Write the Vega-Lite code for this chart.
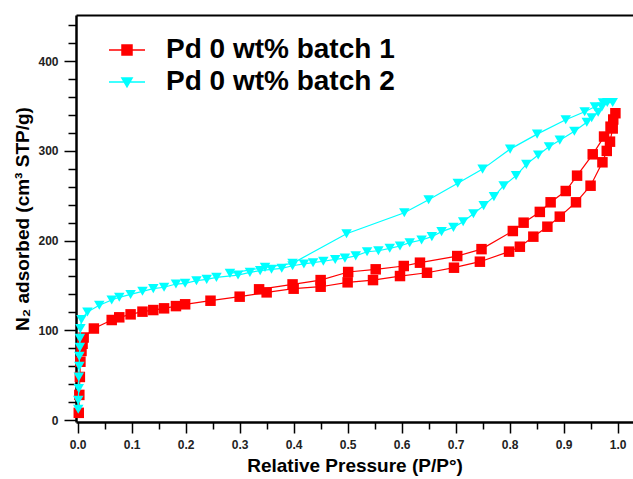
{
  "$schema": "https://vega.github.io/schema/vega-lite/v6.json",
  "autosize": "none",
  "padding": {"left": 76, "top": 15, "right": 0, "bottom": 57},
  "width": 557,
  "height": 407,
  "background": "white",
  "config": {
    "view": {"stroke": null},
    "font": "Liberation Sans",
    "axis": {
      "grid": false,
      "domainColor": "#000",
      "domainWidth": 2.5,
      "tickColor": "#000",
      "tickWidth": 1.5,
      "labelFont": "Liberation Sans",
      "labelFontSize": 12,
      "labelFontWeight": "bold",
      "labelColor": "#222",
      "titleFont": "Liberation Sans",
      "titleFontSize": 19,
      "titleFontWeight": "bold",
      "titleColor": "#000"
    },
    "legend": {
      "orient": "none",
      "legendX": 33,
      "legendY": 17,
      "padding": 0,
      "rowPadding": 0,
      "symbolSize": 1156,
      "symbolStrokeWidth": 1.5,
      "symbolOpacity": 1,
      "labelFont": "Liberation Sans",
      "labelFontSize": 28,
      "labelFontWeight": "bold",
      "labelColor": "#000",
      "labelOffset": 21,
      "labelLimit": 400
    }
  },
  "data": {
    "values": [
      {"s": "Pd 0 wt% batch 1", "o": 1, "p": 0.002, "v": 8},
      {"s": "Pd 0 wt% batch 1", "o": 2, "p": 0.003, "v": 28},
      {"s": "Pd 0 wt% batch 1", "o": 3, "p": 0.004, "v": 48},
      {"s": "Pd 0 wt% batch 1", "o": 4, "p": 0.005, "v": 65},
      {"s": "Pd 0 wt% batch 1", "o": 5, "p": 0.007, "v": 77},
      {"s": "Pd 0 wt% batch 1", "o": 6, "p": 0.009, "v": 85},
      {"s": "Pd 0 wt% batch 1", "o": 7, "p": 0.011, "v": 92},
      {"s": "Pd 0 wt% batch 1", "o": 8, "p": 0.030, "v": 102},
      {"s": "Pd 0 wt% batch 1", "o": 9, "p": 0.063, "v": 111.5},
      {"s": "Pd 0 wt% batch 1", "o": 10, "p": 0.077, "v": 114.5},
      {"s": "Pd 0 wt% batch 1", "o": 11, "p": 0.098, "v": 117.8},
      {"s": "Pd 0 wt% batch 1", "o": 12, "p": 0.120, "v": 120.8},
      {"s": "Pd 0 wt% batch 1", "o": 13, "p": 0.140, "v": 122.6},
      {"s": "Pd 0 wt% batch 1", "o": 14, "p": 0.160, "v": 124.5},
      {"s": "Pd 0 wt% batch 1", "o": 15, "p": 0.182, "v": 127},
      {"s": "Pd 0 wt% batch 1", "o": 16, "p": 0.199, "v": 129},
      {"s": "Pd 0 wt% batch 1", "o": 17, "p": 0.246, "v": 133},
      {"s": "Pd 0 wt% batch 1", "o": 18, "p": 0.300, "v": 137.5},
      {"s": "Pd 0 wt% batch 1", "o": 19, "p": 0.350, "v": 142.3},
      {"s": "Pd 0 wt% batch 1", "o": 20, "p": 0.400, "v": 146.4},
      {"s": "Pd 0 wt% batch 1", "o": 21, "p": 0.450, "v": 148.6},
      {"s": "Pd 0 wt% batch 1", "o": 22, "p": 0.500, "v": 153.5},
      {"s": "Pd 0 wt% batch 1", "o": 23, "p": 0.547, "v": 156},
      {"s": "Pd 0 wt% batch 1", "o": 24, "p": 0.597, "v": 160.5},
      {"s": "Pd 0 wt% batch 1", "o": 25, "p": 0.647, "v": 164.2},
      {"s": "Pd 0 wt% batch 1", "o": 26, "p": 0.697, "v": 169.8},
      {"s": "Pd 0 wt% batch 1", "o": 27, "p": 0.745, "v": 176.5},
      {"s": "Pd 0 wt% batch 1", "o": 28, "p": 0.799, "v": 187.7},
      {"s": "Pd 0 wt% batch 1", "o": 29, "p": 0.819, "v": 193.2},
      {"s": "Pd 0 wt% batch 1", "o": 30, "p": 0.844, "v": 204.4},
      {"s": "Pd 0 wt% batch 1", "o": 31, "p": 0.870, "v": 215.5},
      {"s": "Pd 0 wt% batch 1", "o": 32, "p": 0.893, "v": 226.7},
      {"s": "Pd 0 wt% batch 1", "o": 33, "p": 0.923, "v": 242.7},
      {"s": "Pd 0 wt% batch 1", "o": 34, "p": 0.950, "v": 261.2},
      {"s": "Pd 0 wt% batch 1", "o": 35, "p": 0.972, "v": 287.3},
      {"s": "Pd 0 wt% batch 1", "o": 36, "p": 0.980, "v": 300},
      {"s": "Pd 0 wt% batch 1", "o": 37, "p": 0.986, "v": 310.3},
      {"s": "Pd 0 wt% batch 1", "o": 38, "p": 0.991, "v": 325},
      {"s": "Pd 0 wt% batch 1", "o": 39, "p": 0.996, "v": 342},
      {"s": "Pd 0 wt% batch 1", "o": 40, "p": 0.992, "v": 335},
      {"s": "Pd 0 wt% batch 1", "o": 41, "p": 0.987, "v": 327},
      {"s": "Pd 0 wt% batch 1", "o": 42, "p": 0.975, "v": 316},
      {"s": "Pd 0 wt% batch 1", "o": 43, "p": 0.954, "v": 296.2},
      {"s": "Pd 0 wt% batch 1", "o": 44, "p": 0.925, "v": 272.4},
      {"s": "Pd 0 wt% batch 1", "o": 45, "p": 0.904, "v": 255.3},
      {"s": "Pd 0 wt% batch 1", "o": 46, "p": 0.876, "v": 242.7},
      {"s": "Pd 0 wt% batch 1", "o": 47, "p": 0.856, "v": 232},
      {"s": "Pd 0 wt% batch 1", "o": 48, "p": 0.826, "v": 220},
      {"s": "Pd 0 wt% batch 1", "o": 49, "p": 0.806, "v": 210.7},
      {"s": "Pd 0 wt% batch 1", "o": 50, "p": 0.748, "v": 190.5},
      {"s": "Pd 0 wt% batch 1", "o": 51, "p": 0.703, "v": 182.8},
      {"s": "Pd 0 wt% batch 1", "o": 52, "p": 0.634, "v": 175.4},
      {"s": "Pd 0 wt% batch 1", "o": 53, "p": 0.604, "v": 171.7},
      {"s": "Pd 0 wt% batch 1", "o": 54, "p": 0.552, "v": 168},
      {"s": "Pd 0 wt% batch 1", "o": 55, "p": 0.501, "v": 165},
      {"s": "Pd 0 wt% batch 1", "o": 56, "p": 0.450, "v": 156},
      {"s": "Pd 0 wt% batch 1", "o": 57, "p": 0.398, "v": 151.2},
      {"s": "Pd 0 wt% batch 1", "o": 58, "p": 0.336, "v": 145.7},

      {"s": "Pd 0 wt% batch 2", "o": 1, "p": 0.001, "v": 12},
      {"s": "Pd 0 wt% batch 2", "o": 2, "p": 0.001, "v": 22},
      {"s": "Pd 0 wt% batch 2", "o": 3, "p": 0.002, "v": 35},
      {"s": "Pd 0 wt% batch 2", "o": 4, "p": 0.002, "v": 48},
      {"s": "Pd 0 wt% batch 2", "o": 5, "p": 0.003, "v": 60},
      {"s": "Pd 0 wt% batch 2", "o": 6, "p": 0.003, "v": 71},
      {"s": "Pd 0 wt% batch 2", "o": 7, "p": 0.004, "v": 81},
      {"s": "Pd 0 wt% batch 2", "o": 8, "p": 0.004, "v": 91},
      {"s": "Pd 0 wt% batch 2", "o": 9, "p": 0.005, "v": 102},
      {"s": "Pd 0 wt% batch 2", "o": 10, "p": 0.007, "v": 112},
      {"s": "Pd 0 wt% batch 2", "o": 11, "p": 0.018, "v": 120.5},
      {"s": "Pd 0 wt% batch 2", "o": 12, "p": 0.040, "v": 128},
      {"s": "Pd 0 wt% batch 2", "o": 13, "p": 0.063, "v": 133.8},
      {"s": "Pd 0 wt% batch 2", "o": 14, "p": 0.077, "v": 136.8},
      {"s": "Pd 0 wt% batch 2", "o": 15, "p": 0.098, "v": 140},
      {"s": "Pd 0 wt% batch 2", "o": 16, "p": 0.120, "v": 143.5},
      {"s": "Pd 0 wt% batch 2", "o": 17, "p": 0.140, "v": 146.5},
      {"s": "Pd 0 wt% batch 2", "o": 18, "p": 0.160, "v": 148},
      {"s": "Pd 0 wt% batch 2", "o": 19, "p": 0.182, "v": 151.6},
      {"s": "Pd 0 wt% batch 2", "o": 20, "p": 0.199, "v": 152.4},
      {"s": "Pd 0 wt% batch 2", "o": 21, "p": 0.220, "v": 155.3},
      {"s": "Pd 0 wt% batch 2", "o": 22, "p": 0.239, "v": 156.8},
      {"s": "Pd 0 wt% batch 2", "o": 23, "p": 0.257, "v": 159},
      {"s": "Pd 0 wt% batch 2", "o": 24, "p": 0.297, "v": 161.6},
      {"s": "Pd 0 wt% batch 2", "o": 25, "p": 0.319, "v": 164.6},
      {"s": "Pd 0 wt% batch 2", "o": 26, "p": 0.338, "v": 166.5},
      {"s": "Pd 0 wt% batch 2", "o": 27, "p": 0.359, "v": 168},
      {"s": "Pd 0 wt% batch 2", "o": 28, "p": 0.378, "v": 169.1},
      {"s": "Pd 0 wt% batch 2", "o": 29, "p": 0.398, "v": 172},
      {"s": "Pd 0 wt% batch 2", "o": 30, "p": 0.419, "v": 174},
      {"s": "Pd 0 wt% batch 2", "o": 31, "p": 0.436, "v": 175.4},
      {"s": "Pd 0 wt% batch 2", "o": 32, "p": 0.455, "v": 177},
      {"s": "Pd 0 wt% batch 2", "o": 33, "p": 0.477, "v": 179},
      {"s": "Pd 0 wt% batch 2", "o": 34, "p": 0.495, "v": 180.5},
      {"s": "Pd 0 wt% batch 2", "o": 35, "p": 0.515, "v": 183},
      {"s": "Pd 0 wt% batch 2", "o": 36, "p": 0.536, "v": 187.6},
      {"s": "Pd 0 wt% batch 2", "o": 37, "p": 0.557, "v": 188.7},
      {"s": "Pd 0 wt% batch 2", "o": 38, "p": 0.578, "v": 191.4},
      {"s": "Pd 0 wt% batch 2", "o": 39, "p": 0.597, "v": 194},
      {"s": "Pd 0 wt% batch 2", "o": 40, "p": 0.615, "v": 197.7},
      {"s": "Pd 0 wt% batch 2", "o": 41, "p": 0.637, "v": 200.7},
      {"s": "Pd 0 wt% batch 2", "o": 42, "p": 0.656, "v": 204.4},
      {"s": "Pd 0 wt% batch 2", "o": 43, "p": 0.674, "v": 210},
      {"s": "Pd 0 wt% batch 2", "o": 44, "p": 0.696, "v": 214.8},
      {"s": "Pd 0 wt% batch 2", "o": 45, "p": 0.714, "v": 221},
      {"s": "Pd 0 wt% batch 2", "o": 46, "p": 0.733, "v": 230},
      {"s": "Pd 0 wt% batch 2", "o": 47, "p": 0.752, "v": 239},
      {"s": "Pd 0 wt% batch 2", "o": 48, "p": 0.771, "v": 249},
      {"s": "Pd 0 wt% batch 2", "o": 49, "p": 0.789, "v": 261.2},
      {"s": "Pd 0 wt% batch 2", "o": 50, "p": 0.812, "v": 272.4},
      {"s": "Pd 0 wt% batch 2", "o": 51, "p": 0.831, "v": 285},
      {"s": "Pd 0 wt% batch 2", "o": 52, "p": 0.853, "v": 295.4},
      {"s": "Pd 0 wt% batch 2", "o": 53, "p": 0.873, "v": 304.7},
      {"s": "Pd 0 wt% batch 2", "o": 54, "p": 0.893, "v": 312},
      {"s": "Pd 0 wt% batch 2", "o": 55, "p": 0.920, "v": 322},
      {"s": "Pd 0 wt% batch 2", "o": 56, "p": 0.943, "v": 332},
      {"s": "Pd 0 wt% batch 2", "o": 57, "p": 0.952, "v": 337},
      {"s": "Pd 0 wt% batch 2", "o": 58, "p": 0.964, "v": 343},
      {"s": "Pd 0 wt% batch 2", "o": 59, "p": 0.971, "v": 349},
      {"s": "Pd 0 wt% batch 2", "o": 60, "p": 0.981, "v": 354},
      {"s": "Pd 0 wt% batch 2", "o": 61, "p": 0.991, "v": 354},
      {"s": "Pd 0 wt% batch 2", "o": 62, "p": 0.973, "v": 353.5},
      {"s": "Pd 0 wt% batch 2", "o": 63, "p": 0.958, "v": 349.3},
      {"s": "Pd 0 wt% batch 2", "o": 64, "p": 0.939, "v": 343.7},
      {"s": "Pd 0 wt% batch 2", "o": 65, "p": 0.904, "v": 334.7},
      {"s": "Pd 0 wt% batch 2", "o": 66, "p": 0.851, "v": 318.7},
      {"s": "Pd 0 wt% batch 2", "o": 67, "p": 0.801, "v": 302},
      {"s": "Pd 0 wt% batch 2", "o": 68, "p": 0.750, "v": 279.7},
      {"s": "Pd 0 wt% batch 2", "o": 69, "p": 0.704, "v": 264},
      {"s": "Pd 0 wt% batch 2", "o": 70, "p": 0.650, "v": 245.5},
      {"s": "Pd 0 wt% batch 2", "o": 71, "p": 0.605, "v": 231},
      {"s": "Pd 0 wt% batch 2", "o": 72, "p": 0.498, "v": 207.7},
      {"s": "Pd 0 wt% batch 2", "o": 73, "p": 0.398, "v": 174.7},
      {"s": "Pd 0 wt% batch 2", "o": 74, "p": 0.347, "v": 170.2},
      {"s": "Pd 0 wt% batch 2", "o": 75, "p": 0.282, "v": 163.5}
    ]
  },
  "encoding": {
    "x": {
      "field": "p", "type": "quantitative",
      "scale": {"domain": [-0.00315, 1.0286], "nice": false, "zero": false},
      "axis": null
    },
    "y": {
      "field": "v", "type": "quantitative",
      "scale": {"domain": [-2.2, 451.5], "nice": false, "zero": false},
      "axis": {
        "title": "N₂ adsorbed (cm³ STP/g)",
        "values": [0, 20, 40, 60, 80, 100, 120, 140, 160, 180, 200, 220, 240, 260, 280, 300, 320, 340, 360, 380, 400, 420, 440],
        "labelExpr": "datum.value % 100 === 0 ? format(datum.value, 'd') : ''",
        "tickSize": {"condition": {"test": "datum.value % 100 === 0", "value": 12}, "value": 8},
        "labelPadding": 6,
        "titlePadding": 5,
        "labelFlush": false,
        "labelOverlap": false
      }
    }
  },
  "layer": [
    {
      "transform": [{"filter": "datum.s === 'Pd 0 wt% batch 1'"}],
      "mark": {"type": "line", "color": "#ff0000", "strokeWidth": 1.2},
      "encoding": {
        "x": {
          "field": "p", "type": "quantitative",
          "scale": {"domain": [-0.00315, 1.0286], "nice": false, "zero": false},
          "axis": {
            "title": "Relative Pressure (P/P°)",
            "values": [0, 0.05, 0.1, 0.15, 0.2, 0.25, 0.3, 0.35, 0.4, 0.45, 0.5, 0.55, 0.6, 0.65, 0.7, 0.75, 0.8, 0.85, 0.9, 0.95, 1.0],
            "labelExpr": "round(datum.value*20) % 2 === 0 ? format(datum.value, '.1f') : ''",
            "tickSize": {"condition": {"test": "round(datum.value*20) % 2 === 0", "value": 11}, "value": 7},
            "labelPadding": 6,
            "titlePadding": 6,
            "labelFlush": false,
            "labelOverlap": false
          }
        },
        "order": {"field": "o", "type": "quantitative"}
      }
    },
    {
      "transform": [{"filter": "datum.s === 'Pd 0 wt% batch 1'"}],
      "mark": {"type": "point", "shape": "square", "filled": true, "color": "#ff0000", "opacity": 1, "size": 110}
    },
    {
      "transform": [{"filter": "datum.s === 'Pd 0 wt% batch 2'"}],
      "mark": {"type": "line", "color": "#00ffff", "strokeWidth": 1.2},
      "encoding": {"order": {"field": "o", "type": "quantitative"}}
    },
    {
      "transform": [{"filter": "datum.s === 'Pd 0 wt% batch 2'"}],
      "mark": {"type": "point", "shape": "triangle-down", "filled": true, "color": "#00ffff", "opacity": 1, "size": 110}
    },
    {
      "mark": {"type": "point", "filled": true, "opacity": 0},
      "encoding": {
        "shape": {"field": "s", "type": "nominal",
          "scale": {"domain": ["Pd 0 wt% batch 1", "Pd 0 wt% batch 2"], "range": ["M-1.06,0H1.06M-0.294,-0.294H0.294V0.294H-0.294Z", "M-1.06,0H1.06M-0.3,-0.24H0.3L0,0.28Z"]},
          "legend": {"title": null}},
        "fill": {"field": "s", "type": "nominal",
          "scale": {"domain": ["Pd 0 wt% batch 1", "Pd 0 wt% batch 2"], "range": ["#ff0000", "#00ffff"]},
          "legend": {"title": null}},
        "stroke": {"field": "s", "type": "nominal",
          "scale": {"domain": ["Pd 0 wt% batch 1", "Pd 0 wt% batch 2"], "range": ["#ff0000", "#00ffff"]},
          "legend": {"title": null}}
      }
    },
    {
      "mark": {"type": "point", "opacity": 0},
      "encoding": {
        "x": {"field": "p", "type": "quantitative",
          "scale": {"domain": [-0.00315, 1.0286], "nice": false, "zero": false},
          "axis": {"orient": "top", "labels": false, "ticks": false, "title": null, "domainWidth": 2}}
      }
    }
  ],
  "resolve": {"axis": {"x": "independent"}}
}
